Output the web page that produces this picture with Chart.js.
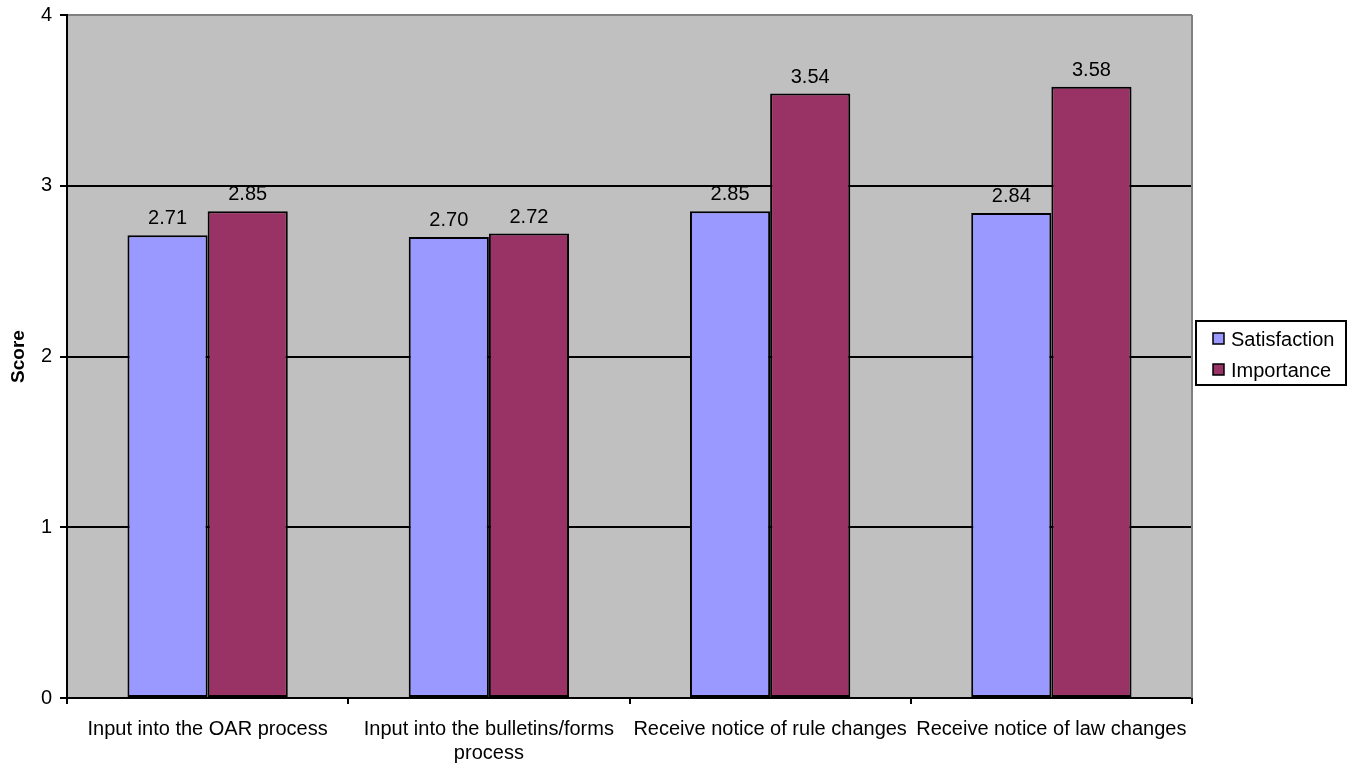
<!DOCTYPE html>
<html>
<head>
<meta charset="utf-8">
<script src="https://cdn.jsdelivr.net/npm/chart.js@4.4.1/dist/chart.umd.min.js"></script>
<style>
  html, body { margin: 0; padding: 0; background: #fff; }
  #wrap { width: 1351px; height: 763px; }
</style>
</head>
<body>
<div id="wrap"><canvas id="chart" width="1351" height="763"></canvas></div>
<script>
const categories = [
    "Input into the OAR process",
    ["Input into the bulletins/forms", "process"],
    "Receive notice of rule changes",
    "Receive notice of law changes",
];
const satisfaction = [2.71, 2.70, 2.85, 2.84];
const importance = [2.85, 2.72, 3.54, 3.58];
const yTicks = [0, 1, 2, 3, 4];

const FONT = "'Liberation Sans', Arial, sans-serif";

// grey plot background + grey right edge
const plotFrame = {
    id: "plotFrame",
    beforeDraw(chart) {
        const { ctx, chartArea: a } = chart;
        ctx.save();
        ctx.fillStyle = "#c0c0c0";
        ctx.fillRect(a.left, a.top, a.right - a.left, a.bottom - a.top);
        ctx.restore();
    },
    afterDraw(chart) {
        const { ctx, chartArea: a } = chart;
        ctx.save();
        ctx.strokeStyle = "#808080";
        ctx.lineWidth = 2;
        ctx.beginPath();
        ctx.moveTo(a.right, a.top);
        ctx.lineTo(a.right, a.bottom);
        ctx.stroke();
        ctx.restore();
    },
};

const valueLabels = {
    id: "valueLabels",
    afterDatasetsDraw(chart) {
        const ctx = chart.ctx;
        ctx.save();
        ctx.font = "20px " + FONT;
        ctx.fillStyle = "#000";
        ctx.textAlign = "center";
        ctx.textBaseline = "alphabetic";
        chart.data.datasets.forEach((ds, i) => {
            chart.getDatasetMeta(i).data.forEach((bar, j) => {
                ctx.fillText(ds.data[j].toFixed(2), bar.x, bar.y - 11);
            });
        });
        ctx.restore();
    },
};

const boxLegend = {
    id: "boxLegend",
    afterDraw(chart) {
        const ctx = chart.ctx;
        ctx.save();
        ctx.strokeStyle = "#000";
        ctx.lineWidth = 2;
        ctx.strokeRect(1196, 321, 150, 64);
        ctx.font = "20px " + FONT;
        ctx.textBaseline = "middle";
        chart.data.datasets.forEach((ds, i) => {
            const y = 339 + i * 31;
            ctx.fillStyle = ds.backgroundColor;
            ctx.fillRect(1213, y - 6, 11, 11);
            ctx.lineWidth = 1.5;
            ctx.strokeRect(1213, y - 6, 11, 11);
            ctx.fillStyle = "#000";
            ctx.fillText(ds.label, 1231, y + 1);
        });
        ctx.restore();
    },
};

Chart.defaults.font.family = FONT;
Chart.defaults.font.size = 20;
Chart.defaults.color = "#000";

new Chart(document.getElementById("chart"), {
    type: "bar",
    data: {
        labels: categories,
        datasets: [
            {
                label: "Satisfaction",
                data: satisfaction,
                backgroundColor: "#9999ff",
                borderColor: "#000",
                borderWidth: 2,
                borderSkipped: false,
            },
            {
                label: "Importance",
                data: importance,
                backgroundColor: "#993366",
                borderColor: "#000",
                borderWidth: 2,
                borderSkipped: false,
            },
        ],
    },
    options: {
        responsive: false,
        animation: false,
        devicePixelRatio: 1,
        layout: { padding: { left: 0, right: 159, top: 15, bottom: 0 } },
        datasets: { bar: { categoryPercentage: 0.57, barPercentage: 1.0 } },
        plugins: {
            legend: { display: false },
            tooltip: { enabled: false },
        },
        scales: {
            x: {
                afterFit(scale) { scale.height = 65; },
                grid: {
                    offset: true,
                    drawOnChartArea: false,
                    drawTicks: true,
                    tickLength: 6,
                    color: "#000",
                    lineWidth: 2,
                },
                border: { color: "#000", width: 2 },
                ticks: { padding: 13, maxRotation: 0, autoSkip: false },
            },
            y: {
                min: 0,
                max: 4,
                afterFit(scale) { scale.width = 67; },
                afterBuildTicks(scale) {
                    scale.ticks = yTicks.map(v => ({ value: v }));
                },
                grid: {
                    color: c => (c.tick && c.tick.value === 4 ? "#808080" : "#000"),
                    tickColor: "#000",
                    lineWidth: 2,
                    tickLength: 7,
                },
                border: { color: "#000", width: 2 },
                ticks: { padding: 8, font: { size: 20, lineHeight: 0.5 } },
                title: {
                    display: true,
                    text: "Score",
                    font: { size: 19, weight: "bold" },
                    padding: { top: 7, bottom: 4 },
                },
            },
        },
    },
    plugins: [plotFrame, valueLabels, boxLegend],
});
</script>
</body>
</html>
